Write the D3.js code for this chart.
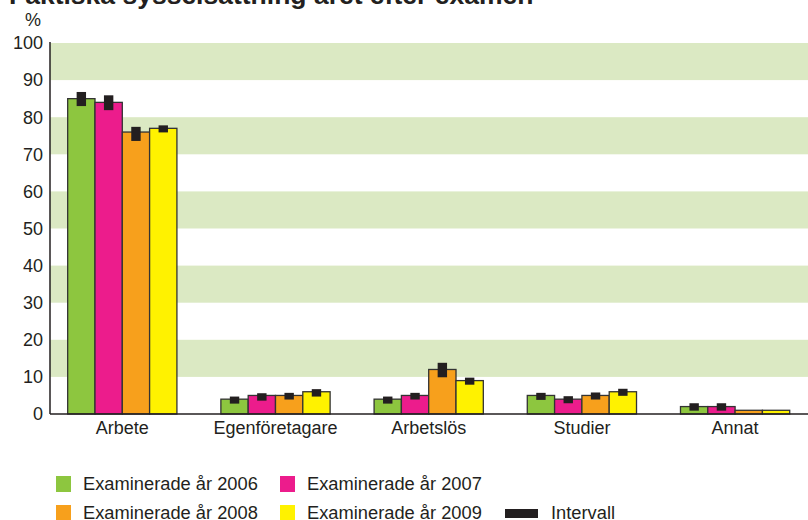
<!DOCTYPE html>
<html lang="sv">
<head>
<meta charset="utf-8">
<title>Sysselsättning året efter examen</title>
<script src="https://d3js.org/d3.v7.min.js"></script>
<style>
  body { margin: 0; background: #fff; }
  svg text { font-family: "Liberation Sans", Arial, Helvetica, sans-serif; fill: #231f20; }
</style>
</head>
<body>
<svg id="chart" width="808" height="520"></svg>
<script>
// data
const categories = ["Arbete", "Egenföretagare", "Arbetslös", "Studier", "Annat"];
const years = ["2006", "2007", "2008", "2009"];
const colors = ["#8dc63f", "#ec1c8c", "#f7a01c", "#fff200"];

// values per year, in category order
const values2006 = [85, 4, 4, 5, 2];
const values2007 = [84, 5, 5, 4, 2];
const values2008 = [76, 5, 12, 5, 1];
const values2009 = [77, 6, 9, 6, 1];

// interval low/high per year (null = no interval drawn)
const low2006 = [83, 2.8, 2.8, 3.8, 0.9];
const high2006 = [86.8, 4.7, 4.7, 5.7, 2.9];
const low2007 = [81.9, 3.6, 3.9, 2.9, 0.9];
const high2007 = [85.9, 5.6, 5.7, 4.8, 2.9];
const low2008 = [73.6, 3.9, 9.9, 3.9, null];
const high2008 = [77.4, 5.7, 13.8, 5.8, null];
const low2009 = [75.9, 4.7, 7.9, 4.9, null];
const high2009 = [77.8, 6.7, 9.8, 6.8, null];

const yTicks = [0, 10, 20, 30, 40, 50, 60, 70, 80, 90, 100];
const bands = [[10, 20], [30, 40], [50, 60], [70, 80], [90, 100]];

const allValues = [values2006, values2007, values2008, values2009];
const allLow = [low2006, low2007, low2008, low2009];
const allHigh = [high2006, high2007, high2008, high2009];

let margin = { top: 43, right: 0, bottom: 106, left: 50 };
let width = 808, height = 520;

let svg = d3.select("#chart");

// category slots run a bit past the right edge, like the original
let x = d3.scaleBand()
    .domain(categories)
    .range([45.7, 811.7])
    .paddingInner(0)
    .paddingOuter(0);

let y = d3.scaleLinear()
    .domain([0, 100])
    .range([height - margin.bottom, margin.top]);

let xs = d3.scaleBand()
    .domain(years)
    .range([0, x.bandwidth() * 0.713]);

const groupOffset = (x.bandwidth() - xs.range()[1]) / 2;

// title, cut at the top edge
svg.append("text")
    .attr("x", 9)
    .attr("y", 4)
    .style("font-size", "26.5px")
    .style("font-weight", "bold")
    .text("Faktiska sysselsättning året efter examen");

// green bands
svg.append("g")
    .selectAll("rect")
    .data(bands)
    .join("rect")
    .attr("x", margin.left)
    .attr("width", width - margin.left)
    .attr("y", d => y(d[1]))
    .attr("height", d => y(d[0]) - y(d[1]))
    .style("fill", "#dbe9c3");

// y axis labels
svg.append("g")
    .selectAll("text")
    .data(yTicks)
    .join("text")
    .attr("x", 43)
    .attr("y", d => y(d))
    .attr("dy", "0.35em")
    .attr("text-anchor", "end")
    .style("font-size", "18px")
    .text(d => d);

svg.append("text")
    .attr("x", 33)
    .attr("y", 26)
    .attr("text-anchor", "middle")
    .style("font-size", "18px")
    .text("%");

// bars
let rows = [];
years.forEach((yr, j) => {
  categories.forEach((c, i) => {
    rows.push({ cat: c, year: yr, color: colors[j], v: allValues[j][i], lo: allLow[j][i], hi: allHigh[j][i] });
  });
});

svg.append("g")
    .selectAll("rect")
    .data(rows)
    .join("rect")
    .attr("x", d => x(d.cat) + groupOffset + xs(d.year))
    .attr("width", xs.bandwidth())
    .attr("y", d => y(d.v))
    .attr("height", d => y(0) - y(d.v))
    .style("fill", d => d.color)
    .style("stroke", "#333")
    .style("stroke-width", 1.3);

// interval marks
svg.append("g")
    .selectAll("rect")
    .data(rows.filter(d => d.lo !== null))
    .join("rect")
    .attr("x", d => x(d.cat) + groupOffset + xs(d.year) + xs.bandwidth() / 2 - 4.7)
    .attr("width", 9.4)
    .attr("y", d => y(d.hi))
    .attr("height", d => y(d.lo) - y(d.hi))
    .style("fill", "#231f20");

// axis lines
svg.append("line")
    .attr("x1", margin.left).attr("x2", margin.left)
    .attr("y1", y(100) - 1).attr("y2", y(0))
    .style("stroke", "#231f20").style("stroke-width", 1.5);

svg.append("line")
    .attr("x1", margin.left).attr("x2", width)
    .attr("y1", y(0)).attr("y2", y(0))
    .style("stroke", "#231f20").style("stroke-width", 1.5);

// category labels
svg.append("g")
    .selectAll("text")
    .data(categories)
    .join("text")
    .attr("x", d => x(d) + x.bandwidth() / 2)
    .attr("y", y(0) + 20)
    .attr("text-anchor", "middle")
    .style("font-size", "18px")
    .text(d => d);

// legend
const legendItems = [
  { label: "Examinerade år 2006", color: colors[0], col: 0, row: 0 },
  { label: "Examinerade år 2007", color: colors[1], col: 1, row: 0 },
  { label: "Examinerade år 2008", color: colors[2], col: 0, row: 1 },
  { label: "Examinerade år 2009", color: colors[3], col: 1, row: 1 }
];
const colX = [56, 280];
const rowY = [484, 513];

let legend = svg.append("g");
legend.selectAll("rect")
    .data(legendItems)
    .join("rect")
    .attr("x", d => colX[d.col])
    .attr("y", d => rowY[d.row] - 8)
    .attr("width", 15)
    .attr("height", 16)
    .style("fill", d => d.color);

legend.selectAll("text")
    .data(legendItems)
    .join("text")
    .attr("x", d => colX[d.col] + 27)
    .attr("y", d => rowY[d.row])
    .attr("dy", "0.35em")
    .style("font-size", "18.3px")
    .text(d => d.label);

legend.append("rect")
    .attr("x", 505).attr("y", rowY[1] - 4)
    .attr("width", 33).attr("height", 9)
    .style("fill", "#231f20");

legend.append("text")
    .attr("x", 551).attr("y", rowY[1])
    .attr("dy", "0.35em")
    .style("font-size", "18.3px")
    .text("Intervall");
</script>
</body>
</html>
